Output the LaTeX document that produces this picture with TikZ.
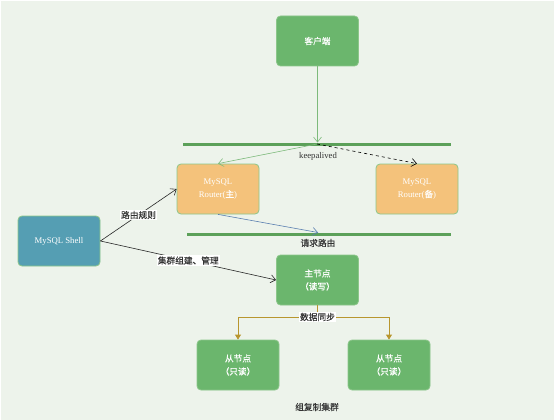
\documentclass[tikz,border=0pt]{standalone}
\usepackage{fontspec}
\setmainfont{Liberation Serif}
\newfontfamily\cjk[FakeBold=0.3]{Noto Sans CJK SC}
\usetikzlibrary{arrows.meta}
\definecolor{bgc}{HTML}{EDF3EB}
\definecolor{boxgreen}{HTML}{6BB66D}
\definecolor{boxborder}{HTML}{8CC68A}
\definecolor{boxorange}{HTML}{F4C27B}
\definecolor{boxteal}{HTML}{559EB3}
\definecolor{barc}{HTML}{5CA059}
\definecolor{linegreen}{HTML}{7DBA7B}
\definecolor{lineblue}{HTML}{5A7FB0}
\definecolor{gold}{HTML}{B8962E}
\definecolor{txt}{HTML}{333333}
\tikzset{
  x=1pt, y=-1pt,
  box/.style={rounded corners=4pt, draw=boxborder, line width=0.8pt,
    minimum width=82pt, minimum height=50pt, inner sep=0pt,
    text=white, align=center, font=\fontsize{8.7}{13}\selectfont},
  gbox/.style={box, fill=boxgreen},
  obox/.style={box, fill=boxorange},
  tbox/.style={box, fill=boxteal},
  bar/.style={fill=barc, minimum height=3pt, inner sep=0pt, outer sep=0pt},
  lbl/.style={text=txt, font=\fontsize{8.7}{10}\selectfont, inner sep=1pt},
  wlbl/.style={lbl, fill=white},
  openarr/.style={-{Straight Barb[length=5pt,width=8pt]}, line width=0.6pt},
}
\begin{document}
\begin{tikzpicture}
\fill[white] (0,0) rectangle (554,420);
\fill[bgc] (1,1) rectangle (554,420);
\useasboundingbox (0,0) rectangle (554,420);

\node[gbox] (client) at (317.5,41) {\cjk 客户端};
\node[bar, minimum width=268pt] (kabar) at (317,144) {};
\node[lbl] (kalbl) at (318,156) {keepalived};
\node[obox] (r1) at (218,189) {MySQL\\Router({\cjk 主})};
\node[obox] (r2) at (417,189) {MySQL\\Router({\cjk 备})};
\node[bar, minimum width=264pt] (reqbar) at (319,234) {};
\node[lbl] (reqlbl) at (318,243) {\cjk 请求路由};
\node[tbox] (shell) at (59,241) {MySQL Shell};
\node[gbox] (master) at (317.5,280) {\cjk 主节点\\\cjk （读写）};
\node[gbox] (s1) at (238,365) {\cjk 从节点\\\cjk （只读）};
\node[gbox] (s2) at (389,365) {\cjk 从节点\\\cjk （只读）};
\node[lbl] (grp) at (317,407) {\cjk 组复制集群};

\coordinate (split) at (317.5,317);

\draw[openarr, draw=linegreen] (client.south) -- (kabar.north -| client.south);
\draw[openarr, draw=linegreen] (kabar.center) -- (r1.north);
\draw[openarr, draw=black, dashed] (kabar.center) -- (r2.north);
\draw[openarr, draw=lineblue] (r1.south) -- (reqbar.north -| kalbl.center);
\draw[openarr, draw=black!85] (shell.east) -- node[wlbl] {\cjk 路由规则} (r1.west);
\draw[openarr, draw=black!85] (shell.east) -- node[wlbl] {\cjk 集群组建、管理} (master.west);

\draw[gold, line width=0.8pt] (master.south) -- (split);
\draw[gold, line width=0.8pt, -{Triangle[length=5pt,width=6pt]}] (split) -| (s1.north);
\draw[gold, line width=0.8pt, -{Triangle[length=5pt,width=6pt]}] (split) -| (s2.north);
\node[wlbl] (synclbl) at (split) {\cjk 数据同步};
\end{tikzpicture}
\end{document}
